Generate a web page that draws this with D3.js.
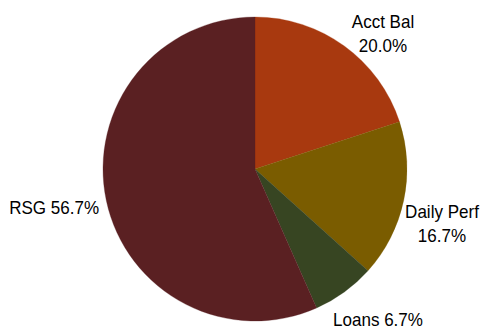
<!DOCTYPE html>
<html><head><meta charset="utf-8">
<script src="https://cdn.jsdelivr.net/npm/d3@7"></script>
<style>body{margin:0;background:#fff}svg{display:block}</style>
</head><body>
<svg id="c" width="485" height="330"></svg>
<script>
const categories = ["Acct Bal", "Daily Perf", "Loans", "RSG"];
const values = [20.0, 16.7, 6.7, 56.7];
const labelLines = [["Acct Bal", "20.0%"], ["Daily Perf", "16.7%"], ["Loans 6.7%"], ["RSG 56.7%"]];
const colors = ["#A8390F", "#7A5C00", "#374522", "#5A2022"];

const svg = d3.select("#c");
const cx = 255, cy = 169, r = 152;
const g = svg.append("g").attr("transform", `translate(${cx},${cy})`);
const pie = d3.pie().sort(null).value(d => d)(values);
const arc = d3.arc().innerRadius(0).outerRadius(r);
g.selectAll("path").data(pie).enter().append("path")
  .attr("d", arc).attr("fill", (d, i) => colors[i])
  .attr("stroke", (d, i) => colors[i]).attr("stroke-width", 0.3);

// label placement relative to pie center (layout, not data)
const labelLayout = [
  {x: 128, y: -141, anchor: "middle"},
  {x: 187, y: 49, anchor: "middle"},
  {x: 123, y: 157, anchor: "middle"},
  {x: -156, y: 45, anchor: "end"}
];
const lineH = 23.5;
const squeeze = 0.92;
labelLines.forEach((lines, i) => {
  const L = labelLayout[i];
  const t = g.append("text").attr("text-anchor", L.anchor)
    .attr("font-family", "Liberation Sans, Arial, sans-serif")
    .attr("font-size", 18.5).attr("fill", "#000");
  lines.forEach((s, j) => {
    const ts = t.append("tspan").attr("x", L.x).attr("y", L.y + j * lineH).text(s);
    const w = ts.node().getComputedTextLength();
    ts.attr("textLength", w * squeeze).attr("lengthAdjust", "spacingAndGlyphs");
  });
});
</script>
</body></html>
